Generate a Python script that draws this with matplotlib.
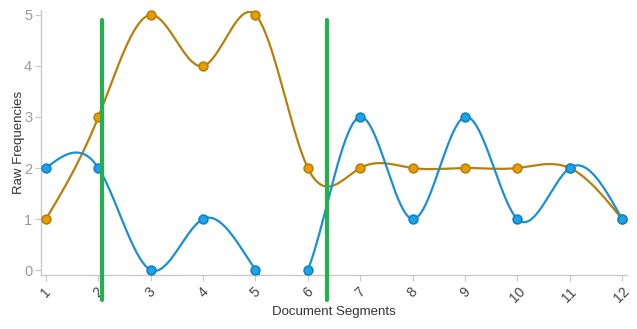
import numpy as np
import matplotlib
matplotlib.use('Agg')
import matplotlib.pyplot as plt

plt.rcParams['font.family'] = ['Liberation Sans', 'DejaVu Sans']

# data
segments = [1, 2, 3, 4, 5, 6, 7, 8, 9, 10, 11, 12]
blue_vals = [2, 2, 0, 1, 0, 0, 3, 1, 3, 1, 2, 1]
orange_vals = [1, 3, 5, 4, 5, 2, 2, 2, 2, 2, 2, 1]
marker_x = [2.07, 6.37]   # green vertical marks


def natural_spline(x, y, n=40):
    # natural cubic spline through points (second derivative 0 at ends)
    x = np.asarray(x, float)
    y = np.asarray(y, float)
    k = len(x)
    h = np.diff(x)
    A = np.zeros((k, k))
    r = np.zeros(k)
    A[0, 0] = 1
    A[-1, -1] = 1
    for i in range(1, k - 1):
        A[i, i - 1] = h[i - 1]
        A[i, i] = 2 * (h[i - 1] + h[i])
        A[i, i + 1] = h[i]
        r[i] = 6 * ((y[i + 1] - y[i]) / h[i] - (y[i] - y[i - 1]) / h[i - 1])
    M = np.linalg.solve(A, r)
    xs, ys = [], []
    for i in range(k - 1):
        t = np.linspace(x[i], x[i + 1], n, endpoint=(i == k - 2))
        a = (x[i + 1] - t) / h[i]
        b = (t - x[i]) / h[i]
        s = (a * y[i] + b * y[i + 1]
             + ((a**3 - a) * M[i] + (b**3 - b) * M[i + 1]) * h[i]**2 / 6)
        xs.append(t)
        ys.append(s)
    return np.concatenate(xs), np.concatenate(ys)


fig = plt.figure(figsize=(6.37, 3.29), dpi=100)
ax = fig.add_axes([40.5 / 637, (329 - 275) / 329, (627 - 40.5) / 637, (275 - 10) / 329])

# orange series
xs, ys = natural_spline(segments, orange_vals)
ax.plot(xs, ys, color='#b8800a', lw=1.6, zorder=2)
ax.plot(segments, orange_vals, 'o', ms=6.3, mfc='#e89c00', mec='#b8800a', mew=1.2, zorder=4)

# blue series
xs, ys = natural_spline(segments, blue_vals)
ax.plot(xs, ys, color='#1a8fd6', lw=1.6, zorder=3)
ax.plot(segments, blue_vals, 'o', ms=6.3, mfc='#1ea3e6', mec='#0c84c8', mew=1.2, zorder=5)

ax.set_xlim(0.895, 12.095)
ax.set_ylim(-0.098, 5.098)
ax.set_xticks(segments)
ax.set_yticks([0, 1, 2, 3, 4, 5])

for s in ['top', 'right']:
    ax.spines[s].set_visible(False)
for s in ['left', 'bottom']:
    ax.spines[s].set_color('#c8c8c8')
    ax.spines[s].set_linewidth(1)

ax.tick_params(axis='y', colors='#c8c8c8', labelcolor='#9a9a9a', labelsize=10.5, length=4, pad=2)
ax.tick_params(axis='x', colors='#c8c8c8', labelcolor='#444444', labelsize=10, length=4, pad=3)
plt.setp(ax.get_xticklabels(), rotation=45, ha='center', va='top')

ax.set_ylabel('Raw Frequencies', fontsize=9.5, color='#333333')
ax.yaxis.set_label_coords(-0.027, 0.5)
ax.set_xlabel('Document Segments', fontsize=9.5, color='#333333', labelpad=0)

# green vertical marks drawn over the chart
for mx in marker_x:
    ax.plot([mx, mx], [4.9, -0.59], color='#22b14c', lw=3, solid_capstyle='round',
            clip_on=False, zorder=10)

fig.savefig('out.png', dpi=100)
